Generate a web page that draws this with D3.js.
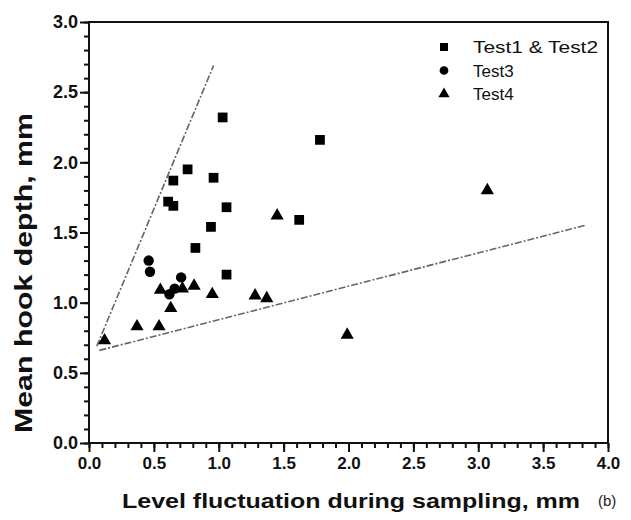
<!DOCTYPE html>
<html>
<head>
<meta charset="utf-8">
<script src="https://cdn.jsdelivr.net/npm/d3@7"></script>
<style>
  body { margin: 0; background: #fff; }
  svg { display: block; }
</style>
</head>
<body>
<div id="chart"></div>
<script>
// Test1 & Test2 (squares)
var test12X = [1.03, 1.78, 0.65, 0.76, 0.96, 0.61, 0.65, 1.06, 0.94, 0.82, 1.62, 1.06];
var test12Y = [2.32, 2.16, 1.87, 1.95, 1.89, 1.72, 1.69, 1.68, 1.54, 1.39, 1.59, 1.20];
// Test3 (circles)
var test3X = [0.46, 0.47, 0.71, 0.66, 0.62];
var test3Y = [1.30, 1.22, 1.18, 1.10, 1.06];
// Test4 (triangles)
var test4X = [0.12, 0.37, 0.54, 0.55, 0.63, 0.72, 0.81, 0.95, 1.28, 1.37, 1.45, 1.99, 3.07];
var test4Y = [0.73, 0.83, 0.83, 1.09, 0.96, 1.10, 1.12, 1.06, 1.05, 1.03, 1.62, 0.77, 1.80];
// envelope lines (dash-dot)
var upperLineX = [0.06, 0.96];
var upperLineY = [0.69, 2.69];
var lowerLineX = [0.08, 3.82];
var lowerLineY = [0.66, 1.55];

var xTicks = [0, 0.5, 1.0, 1.5, 2.0, 2.5, 3.0, 3.5, 4.0];
var yTicks = [0, 0.5, 1.0, 1.5, 2.0, 2.5, 3.0];
var legendLabels = ["Test1 & Test2", "Test3", "Test4"];

var chartW = 631, chartH = 520;
var plotL = 89, plotR = 608, plotT = 22, plotB = 443;
var font = "Arial, 'Liberation Sans', sans-serif";

var svg = d3.select("#chart").append("svg")
  .attr("width", chartW)
  .attr("height", chartH);

var x = d3.scaleLinear().domain([0, 4]).range([plotL, plotR]);
var y = d3.scaleLinear().domain([0, 3]).range([plotB, plotT]);

// minor ticks every 0.1
var xMinor = d3.range(0, 41).map(function (d) { return d / 10; });
var yMinor = d3.range(0, 31).map(function (d) { return d / 10; });

function axisGroup(transform, axis, size) {
  var g = svg.append("g")
    .attr("transform", transform)
    .call(axis);
  g.attr("font-size", size)
    .attr("font-weight", "bold")
    .attr("font-family", font)
    .style("color", "#111");
  g.select(".domain").remove();
  g.selectAll(".tick line")
    .attr("stroke", "#111")
    .attr("stroke-width", 2);
  g.selectAll(".tick text")
    .attr("fill", "#111")
    .attr("font-size", size)
    .attr("font-weight", "bold");
  return g;
}

axisGroup("translate(0," + plotB + ")",
  d3.axisBottom(x).tickValues(xMinor).tickSizeInner(5).tickSizeOuter(0)
    .tickFormat(function () { return ""; }), 17);
axisGroup("translate(0," + plotB + ")",
  d3.axisBottom(x).tickValues(xTicks).tickSizeInner(9).tickSizeOuter(0).tickPadding(5)
    .tickFormat(d3.format(".1f")), 17);
axisGroup("translate(" + plotL + ",0)",
  d3.axisLeft(y).tickValues(yMinor).tickSizeInner(5).tickSizeOuter(0)
    .tickFormat(function () { return ""; }), 18);
axisGroup("translate(" + plotL + ",0)",
  d3.axisLeft(y).tickValues(yTicks).tickSizeInner(9).tickSizeOuter(0).tickPadding(2)
    .tickFormat(d3.format(".1f")), 18);

// frame
svg.append("rect")
  .attr("x", plotL).attr("y", plotT)
  .attr("width", plotR - plotL).attr("height", plotB - plotT)
  .attr("fill", "none").attr("stroke", "#111").attr("stroke-width", 2);

// dash-dot guide lines
var line = d3.line()
  .x(function (d) { return x(d[0]); })
  .y(function (d) { return y(d[1]); });
[[upperLineX, upperLineY], [lowerLineX, lowerLineY]].forEach(function (l) {
  svg.append("path")
    .datum(d3.zip(l[0], l[1]))
    .attr("d", line)
    .attr("fill", "none")
    .attr("stroke", "#666")
    .attr("stroke-width", 1.6)
    .attr("stroke-dasharray", "7,2,2,2");
});

var sym = {
  square: d3.symbolSquare,
  circle: d3.symbolCircle,
  triangle: d3.symbolTriangle
};

function drawSeries(xs, ys, shape, size) {
  svg.append("g").selectAll("path")
    .data(d3.zip(xs, ys))
    .join("path")
    .attr("transform", function (d) { return "translate(" + x(d[0]) + "," + y(d[1]) + ")"; })
    .attr("d", d3.symbol().type(sym[shape]).size(size)())
    .attr("fill", "#000");
}
drawSeries(test12X, test12Y, "square", 95);
drawSeries(test3X, test3Y, "circle", 85);
drawSeries(test4X, test4Y, "triangle", 75);

// legend
var legendShapes = [["square", 64], ["circle", 60], ["triangle", 55]];
var legend = svg.append("g").attr("font-family", font);
legendLabels.forEach(function (lab, i) {
  var cy = 47 + i * 23.5;
  legend.append("path")
    .attr("transform", "translate(444," + cy + ")")
    .attr("d", d3.symbol().type(sym[legendShapes[i][0]]).size(legendShapes[i][1])())
    .attr("fill", "#000");
  var t = legend.append("text")
    .attr("x", 473).attr("y", cy + 6)
    .attr("fill", "#111")
    .attr("font-size", 17)
    .text(lab);
  if (i === 0) t.attr("textLength", 125).attr("lengthAdjust", "spacingAndGlyphs");
});

// axis titles
svg.append("text")
  .attr("x", 122).attr("y", 508)
  .attr("fill", "#111")
  .attr("font-family", font)
  .attr("font-size", 21).attr("font-weight", "bold")
  .attr("textLength", 458).attr("lengthAdjust", "spacingAndGlyphs")
  .text("Level fluctuation during sampling, mm");

svg.append("text")
  .attr("transform", "translate(32,433) rotate(-90)")
  .attr("fill", "#111")
  .attr("font-family", font)
  .attr("font-size", 24).attr("font-weight", "bold")
  .attr("textLength", 320).attr("lengthAdjust", "spacingAndGlyphs")
  .text("Mean hook depth, mm");

svg.append("text")
  .attr("x", 598).attr("y", 506)
  .attr("fill", "#222")
  .attr("font-family", font)
  .attr("font-size", 15)
  .text("(b)");
</script>
</body>
</html>
